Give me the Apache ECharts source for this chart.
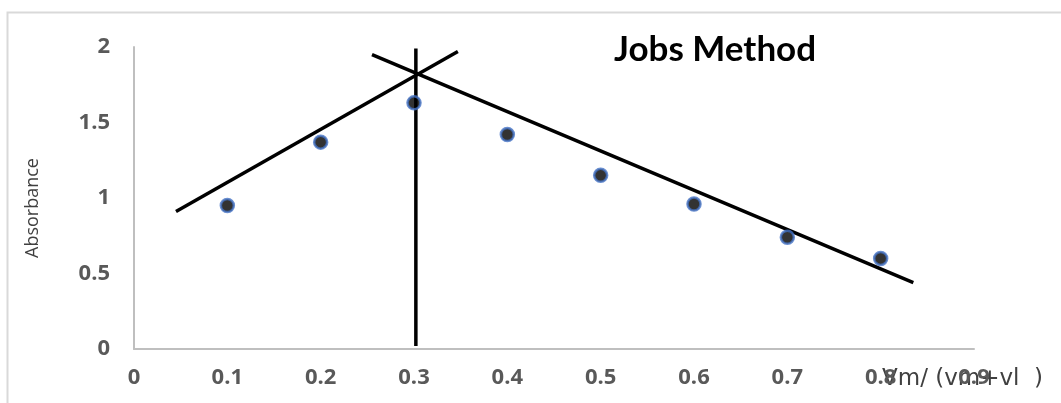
<!DOCTYPE html>
<html>
<head>
<meta charset="utf-8">
<script src="https://cdn.jsdelivr.net/npm/echarts@6/dist/echarts.min.js"></script>
<style>
  html, body { margin: 0; padding: 0; background: #ffffff; }
  #chart { width: 1061px; height: 403px; }
</style>
</head>
<body>
<div id="chart"></div>
<script>
// Mole fraction of metal, Vm/(Vm+Vl)
const moleFraction = [0.1, 0.2, 0.3, 0.4, 0.5, 0.6, 0.7, 0.8];
// Measured absorbance at each mole fraction
const absorbance = [0.95, 1.37, 1.63, 1.42, 1.15, 0.96, 0.74, 0.60];

// Hand-drawn extrapolation lines: rising branch, falling branch, and the
// vertical marker through their intersection (stoichiometric ratio)
const risingLine = [[0.045, 0.91], [0.347, 1.97]];
const fallingLine = [[0.255, 1.95], [0.835, 0.44]];
const stoichLine = [[0.302, 0.02], [0.302, 1.99]];

const yTicks = { min: 0, max: 2, step: 0.5 };
const xTicks = { min: 0, max: 0.9, step: 0.1 };

const chart = echarts.init(document.getElementById('chart'));

const tickFont = {
  color: '#595959',
  fontFamily: 'Open Sans',
  fontWeight: 'bold',
  fontSize: 22
};

const guide = (data) => ({
  type: 'line',
  data: data,
  symbol: 'none',
  silent: true,
  lineStyle: { color: '#000000', width: 3.5 },
  z: 2
});

chart.setOption({
  animation: false,
  backgroundColor: '#ffffff',
  graphic: [{
    type: 'rect',
    shape: { x: 7.5, y: 12.5, width: 1200, height: 600 },
    style: { fill: 'none', stroke: '#d9d9d9', lineWidth: 2 },
    silent: true,
    z: 0
  }],
  title: {
    text: 'Jobs Method',
    left: 614,
    top: 32,
    padding: 0,
    textStyle: {
      color: '#000000',
      fontFamily: 'Lato',
      fontWeight: 'bold',
      fontSize: 35
    }
  },
  grid: { left: 134, right: 87, top: 47, bottom: 54 },
  xAxis: {
    type: 'value',
    min: xTicks.min,
    max: xTicks.max,
    interval: xTicks.step,
    name: 'Vm/ (vm+vl  )',
    nameLocation: 'end',
    nameGap: -92,
    nameMoveOverlap: false,
    nameTextStyle: {
      color: '#404040',
      fontFamily: 'DejaVu Sans',
      fontSize: 23,
      verticalAlign: 'top',
      padding: [19, 0, 0, 0]
    },
    axisLine: { lineStyle: { color: '#bfbfbf', width: 2 } },
    axisTick: { show: false },
    splitLine: { show: false },
    axisLabel: Object.assign({}, tickFont, {
      margin: 18,
      formatter: (v) => String(+v.toFixed(1))
    })
  },
  yAxis: {
    type: 'value',
    min: yTicks.min,
    max: yTicks.max,
    interval: yTicks.step,
    name: 'Absorbance',
    nameLocation: 'middle',
    nameGap: 92,
    nameTextStyle: {
      color: '#404040',
      fontFamily: 'Open Sans',
      fontSize: 18,
      padding: [0, 20, 0, 0]
    },
    axisLine: { show: true, lineStyle: { color: '#bfbfbf', width: 2 } },
    axisTick: { show: false },
    splitLine: { show: false },
    axisLabel: Object.assign({}, tickFont, {
      margin: 24,
      formatter: (v) => String(+v.toFixed(1))
    })
  },
  series: [
    guide(risingLine),
    guide(fallingLine),
    guide(stoichLine),
    {
      type: 'scatter',
      data: moleFraction.map((x, i) => [x, absorbance[i]]),
      symbol: 'circle',
      symbolSize: 13,
      itemStyle: { color: '#000000', borderColor: '#4472c4', borderWidth: 2.5 },
      z: 3
    }
  ]
});
</script>
</body>
</html>
